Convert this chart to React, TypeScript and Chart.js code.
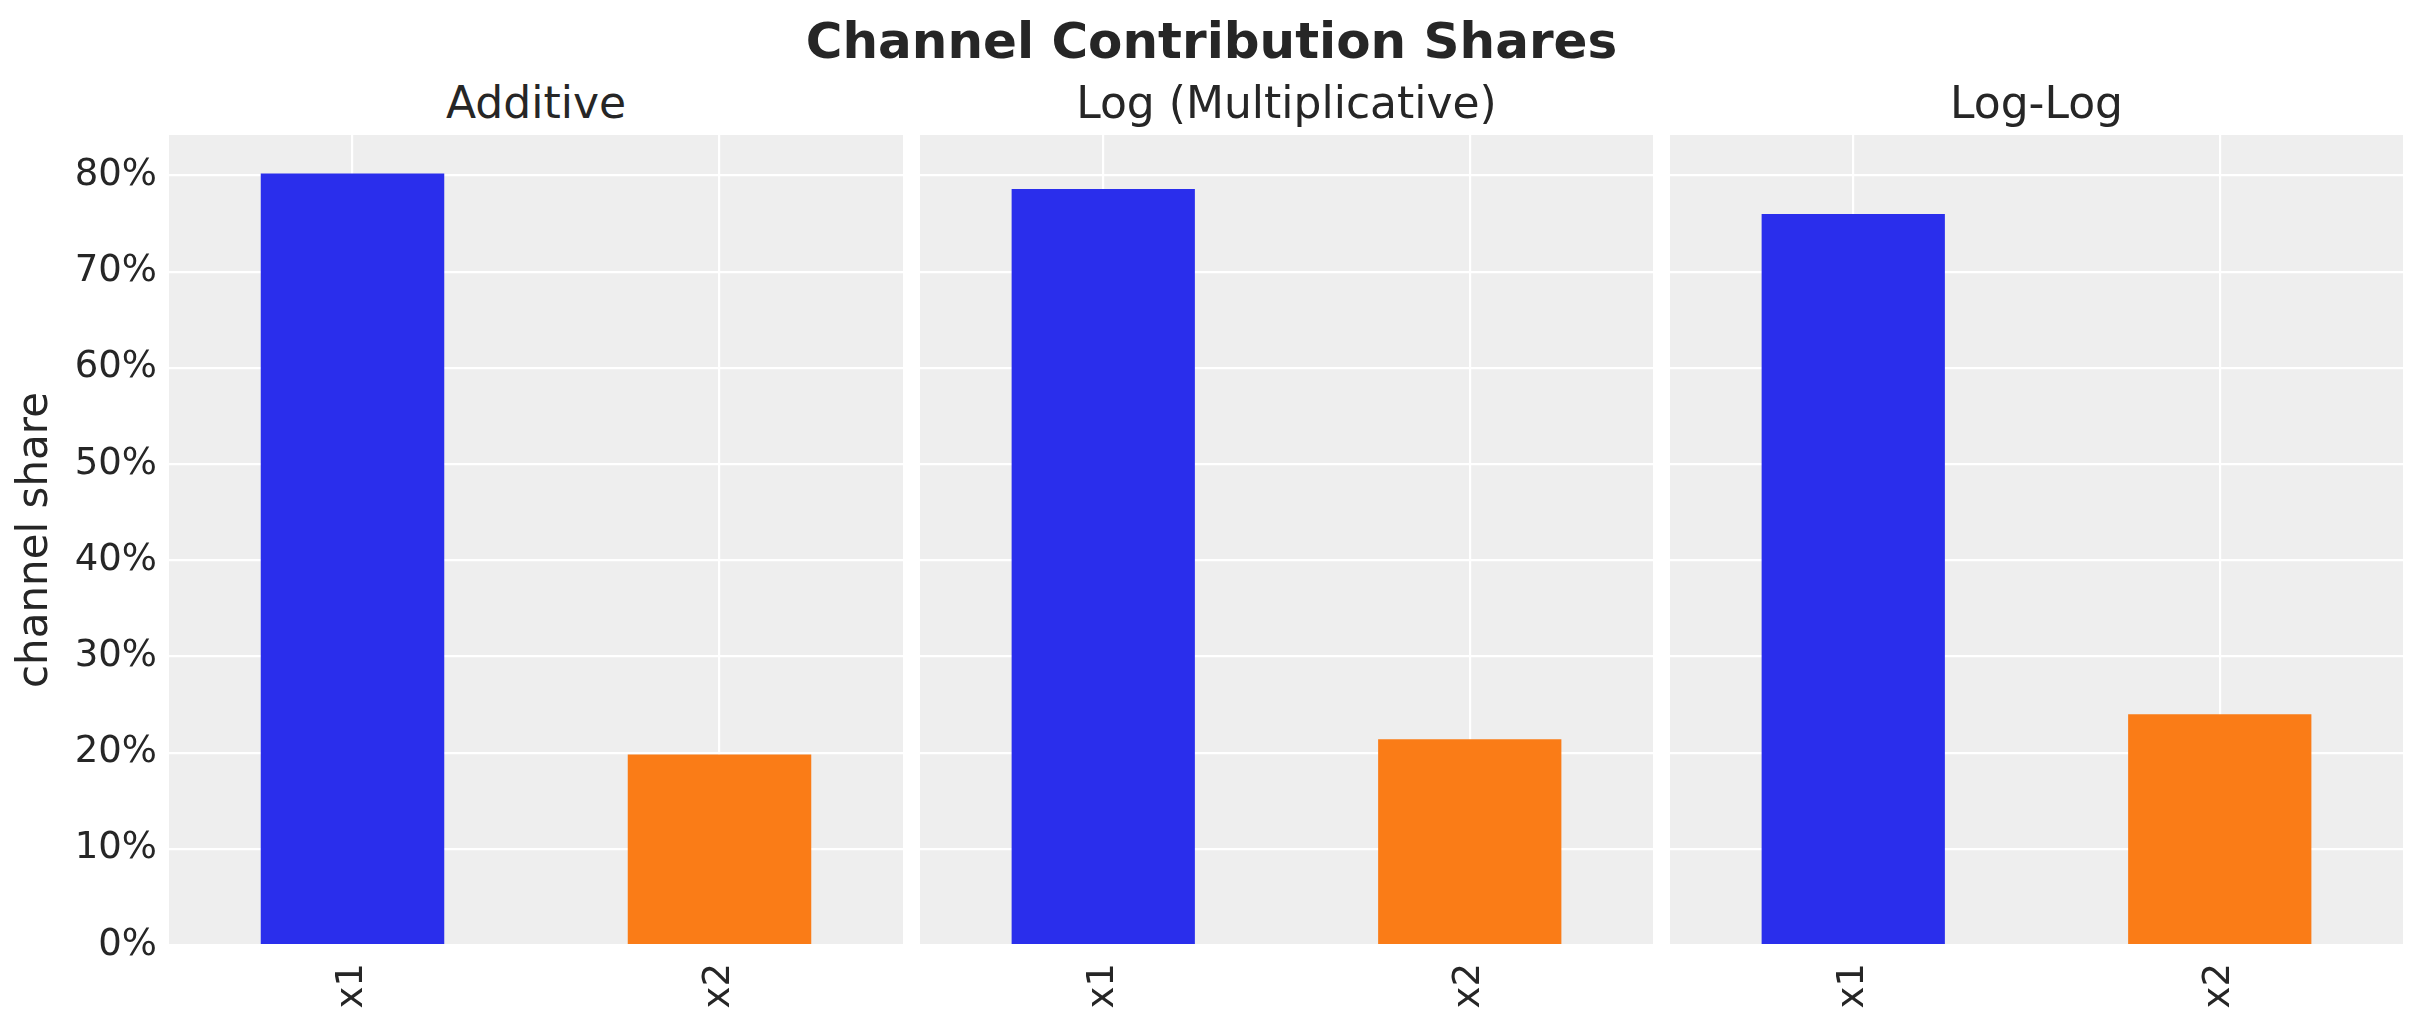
import React, { useEffect, useRef } from 'react'
import { Chart, registerables } from 'chart.js'

Chart.register(...registerables)

// data
const channels = ['x1', 'x2']
const panelTitles = ['Additive', 'Log (Multiplicative)', 'Log-Log']
const additiveShares = [80.2, 19.8]
const logShares = [78.6, 21.4]
const logLogShares = [76.0, 24.0]
const shareTicks = [0, 10, 20, 30, 40, 50, 60, 70, 80]
const barColors = ['#2a2eec', '#fa7c17']

const FONT = "'DejaVu Sans', sans-serif"
const TEXT = '#262626'
const PAGE_W = 2423
const PAGE_H = 1023
const PLOT_TOP = 135
const PLOT_BOTTOM = 945

// shared y range, matplotlib style 5% head room
const yMax = Math.max(...additiveShares, ...logShares, ...logLogShares) * 1.05

const panelBackground = {
  id: 'panelBackground',
  beforeDraw(chart: any) {
    const { ctx, chartArea } = chart
    if (!chartArea) return
    ctx.save()
    ctx.fillStyle = '#eeeeee'
    ctx.fillRect(chartArea.left, chartArea.top, chartArea.right - chartArea.left, chartArea.bottom - chartArea.top)
    ctx.restore()
  },
}

interface PanelProps {
  shares: number[]
  left: number
  width: number
  axisWidth: number
  showY: boolean
}

const Panel: React.FC<PanelProps> = ({ shares, left, width, axisWidth, showY }) => {
  const canvasRef = useRef<HTMLCanvasElement>(null)
  const chartRef = useRef<Chart | null>(null)

  useEffect(() => {
    if (!canvasRef.current) return
    const ctx = canvasRef.current.getContext('2d')
    if (!ctx) return

    chartRef.current = new Chart(ctx, {
      type: 'bar',
      data: {
        labels: channels,
        datasets: [
          {
            data: shares,
            backgroundColor: barColors,
            borderWidth: 0,
            barPercentage: 0.5,
            categoryPercentage: 1,
          },
        ],
      },
      options: {
        responsive: false,
        maintainAspectRatio: false,
        animation: false,
        layout: { padding: { top: PLOT_TOP, left: 0, right: 0, bottom: 0 } },
        plugins: {
          legend: { display: false },
          tooltip: { enabled: false },
          title: { display: false },
        },
        scales: {
          x: {
            offset: true,
            border: { display: false },
            grid: { offset: false, color: '#ffffff', lineWidth: 2.2, drawTicks: false },
            ticks: {
              color: TEXT,
              font: { family: FONT, size: 37 },
              minRotation: 90,
              maxRotation: 90,
              padding: 18,
              autoSkip: false,
            },
            afterFit: (scale: any) => {
              scale.height = PAGE_H - PLOT_BOTTOM
            },
          },
          y: {
            min: 0,
            max: yMax,
            border: { display: false },
            grid: { color: '#ffffff', lineWidth: 2.2, drawTicks: false },
            afterBuildTicks: (scale: any) => {
              scale.ticks = shareTicks.map((v) => ({ value: v }))
            },
            ticks: {
              display: showY,
              color: TEXT,
              font: { family: FONT, size: 37 },
              padding: 12,
              callback: (value: any) => `${value}%`,
            },
            title: {
              display: showY,
              text: 'channel share',
              color: TEXT,
              font: { family: FONT, size: 42 },
              padding: { top: 11, bottom: 0 },
            },
            afterFit: (scale: any) => {
              scale.width = axisWidth
            },
          },
        },
      } as any,
      plugins: [panelBackground],
    })

    return () => {
      if (chartRef.current) {
        chartRef.current.destroy()
        chartRef.current = null
      }
    }
  }, [shares, axisWidth, showY])

  return (
    <canvas
      ref={canvasRef}
      width={width}
      height={PAGE_H}
      style={{ position: 'absolute', left, top: 0, width, height: PAGE_H }}
    />
  )
}

const titleStyle = (center: number, top: number, size: number, bold: boolean): React.CSSProperties => ({
  position: 'absolute',
  left: center - 600,
  width: 1200,
  top,
  textAlign: 'center',
  fontFamily: FONT,
  fontSize: size,
  lineHeight: `${size}px`,
  fontWeight: bold ? 'bold' : 'normal',
  color: TEXT,
  whiteSpace: 'nowrap',
})

export default function App() {
  const panels = [
    { shares: additiveShares, left: 0, width: 903, axisWidth: 169, showY: true },
    { shares: logShares, left: 920, width: 733, axisWidth: 0, showY: false },
    { shares: logLogShares, left: 1670, width: 733, axisWidth: 0, showY: false },
  ]

  return (
    <div style={{ position: 'absolute', left: 0, top: 0, width: PAGE_W, height: PAGE_H, background: '#ffffff', overflow: 'hidden' }}>
      <div style={titleStyle(PAGE_W / 2, 16, 50, true)}>Channel Contribution Shares</div>
      {panels.map((p, i) => {
        const plotLeft = p.left + p.axisWidth
        const center = (plotLeft + p.left + p.width) / 2
        return (
          <React.Fragment key={panelTitles[i]}>
            <div style={titleStyle(center, 81, 44, false)}>{panelTitles[i]}</div>
            <Panel {...p} />
          </React.Fragment>
        )
      })}
    </div>
  )
}
